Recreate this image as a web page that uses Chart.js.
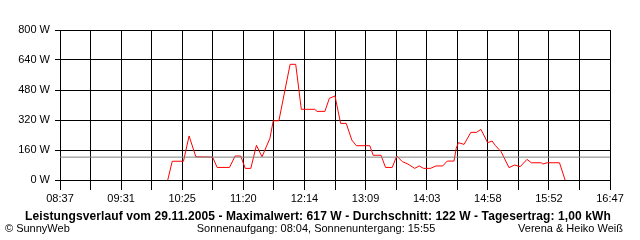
<!DOCTYPE html>
<html>
<head>
<meta charset="utf-8">
<script src="https://cdn.jsdelivr.net/npm/chart.js@4/dist/chart.umd.min.js"></script>
<style>
    body { margin: 0; background: #fff; }
    #wrap { position: relative; width: 640px; height: 240px; }
    .txt { position: absolute; font-family: "Liberation Sans", Arial, sans-serif; color: #000; white-space: nowrap; line-height: 13px; }
</style>
</head>
<body>
<div id="wrap">
    <canvas id="powerChart" width="640" height="240"></canvas>
    <div class="txt" id="title" style="left:0; width:636px; top:210px; text-align:center; font-weight:bold; font-size:12px; letter-spacing:0.1px;">Leistungsverlauf vom 29.11.2005 - Maximalwert: 617 W - Durchschnitt: 122 W - Tagesertrag: 1,00 kWh</div>
    <div class="txt" style="left:5px; top:222px; font-size:11px;">© SunnyWeb</div>
    <div class="txt" style="left:0; width:632px; top:222px; text-align:center; font-size:11px;">Sonnenaufgang: 08:04, Sonnenuntergang: 15:55</div>
    <div class="txt" style="right:17px; top:222px; font-size:11px;">Verena &amp; Heiko Weiß</div>
</div>
<script>
// Messwerte (Uhrzeit / Leistung in W)
const times = ['10:13','10:17','10:27','10:32','10:38','10:53','10:57','11:08','11:13','11:18',
    '11:22','11:27','11:32','11:37','11:44','11:47','11:52','12:02','12:07','12:12',
    '12:24','12:26','12:33','12:37','12:42','12:47','12:52','12:57','13:01','13:13',
    '13:16','13:23','13:27','13:33','13:37','13:42','13:47','13:53','13:57','14:01',
    '14:07','14:12','14:18','14:22','14:28','14:30','14:32','14:37','14:43','14:48',
    '14:52','14:58','15:02','15:05','15:10','15:17','15:22','15:27','15:33','15:37',
    '15:46','15:47','15:51','16:02','16:07'];
const watts = [0,100,100,235,124,122,67,67,128,128,
    62,62,185,124,222,316,316,617,617,377,
    377,366,366,436,448,302,302,213,183,183,
    132,132,67,67,128,98,85,62,75,62,
    62,75,75,101,101,169,199,190,254,254,
    270,199,208,183,151,66,80,71,110,92,
    92,85,92,92,0];
const average = 122;

const xLabels = ['08:37','09:31','10:25','11:20','12:14','13:09','14:03','14:58','15:52','16:47'];
const yTicks = [0, 160, 320, 480, 640, 800];

const toMin = t => { const [h, m] = t.split(':').map(Number); return h * 60 + m; };
const xMin = toMin(xLabels[0]);
const xMax = toMin(xLabels[xLabels.length - 1]);
const gridCount = (xLabels.length - 1) * 2;

Chart.defaults.font.family = '"Liberation Sans", Arial, sans-serif';
Chart.defaults.font.size = 11;
Chart.defaults.color = '#000';

new Chart(document.getElementById('powerChart'), {
    type: 'line',
    data: {
        datasets: [
            {
                data: times.map((t, i) => ({ x: toMin(t), y: watts[i] })),
                borderColor: '#ff0000',
                borderWidth: 1,
                pointRadius: 0,
                tension: 0,
                order: 1
            },
            {
                data: [{ x: xMin, y: average }, { x: xMax, y: average }],
                borderColor: '#808080',
                borderWidth: 1,
                pointRadius: 0,
                order: 0
            }
        ]
    },
    options: {
        responsive: false,
        animation: false,
        events: [],
        layout: { padding: { left: 0, right: 30, top: 30, bottom: 0 } },
        plugins: { legend: { display: false }, tooltip: { enabled: false } },
        scales: {
            x: {
                type: 'linear',
                min: xMin,
                max: xMax,
                afterBuildTicks: s => {
                    s.ticks = [];
                    for (let i = 0; i <= gridCount; i++) s.ticks.push({ value: xMin + i * (xMax - xMin) / gridCount });
                },
                afterFit: s => { s.height = 60; },
                ticks: {
                    autoSkip: false,
                    maxRotation: 0,
                    padding: 2,
                    callback: (v, i) => (i % 2 === 0 ? xLabels[i / 2] : '')
                },
                grid: { color: '#000', lineWidth: 1, tickLength: 10 },
                border: { color: '#000' }
            },
            y: {
                min: yTicks[0],
                max: yTicks[yTicks.length - 1],
                afterBuildTicks: s => { s.ticks = yTicks.map(v => ({ value: v })); },
                afterFit: s => { s.width = 60; },
                ticks: { padding: 5, callback: v => v + ' W' },
                grid: { color: '#000', lineWidth: 1, tickLength: 5 },
                border: { color: '#000' }
            }
        }
    }
});
</script>
</body>
</html>
